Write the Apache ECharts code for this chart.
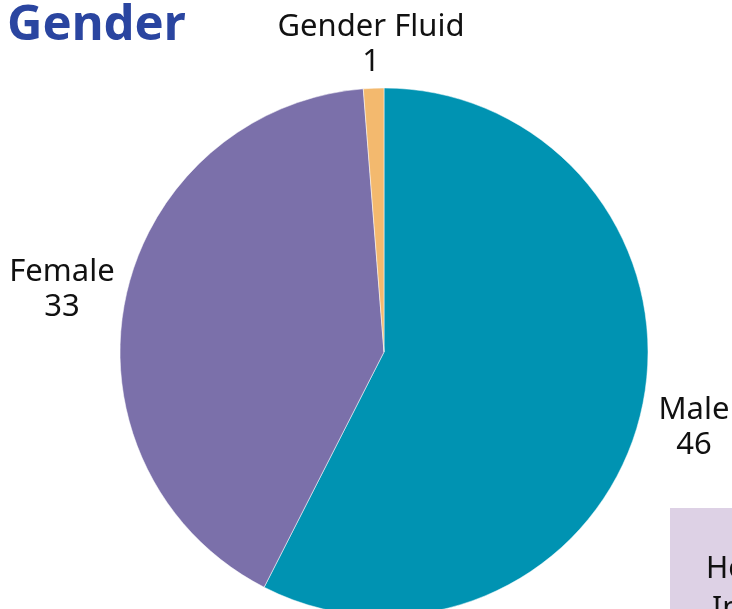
<!DOCTYPE html>
<html><head><meta charset="utf-8">
<script src="https://cdn.jsdelivr.net/npm/echarts@6/dist/echarts.min.js"></script>
<style>html,body{margin:0;padding:0;background:#fff}#c{width:732px;height:609px}</style>
</head><body><div id="c"></div>
<script>
const categories = ['Male', 'Female', 'Gender Fluid'];
const values = [46, 33, 1];
const colors = ['#0093B2', '#7B70AA', '#F3B96E'];
const labelPos = [[694, 428], [62, 290], [371, 45]];

const chart = echarts.init(document.getElementById('c'), null, {renderer: 'canvas'});
chart.setOption({
  animation: false,
  title: {
    text: 'Gender', left: 2, top: -3,
    textStyle: {fontFamily: 'Noto Sans', fontWeight: 'bold', fontSize: 49, color: '#2A45A0'}
  },
  graphic: [
    {type: 'rect', shape: {x: 670, y: 508, width: 70, height: 110}, style: {fill: '#DDD1E5'}},
    {type: 'text', x: 706, y: 554, style: {text: 'How', font: '30px "Noto Sans"', fill: '#111'}},
    {type: 'text', x: 712, y: 594, style: {text: 'In', font: '30px "Noto Sans"', fill: '#111'}}
  ],
  series: [{
    type: 'pie',
    center: [384, 352],
    radius: [0, 264],
    startAngle: 90,
    clockwise: true,
    data: categories.map((n, i) => ({name: n, value: values[i], itemStyle: {color: colors[i]}})),
    itemStyle: {borderColor: '#fff', borderWidth: 0.5},
    label: {
      show: true, position: 'outside', formatter: '{b}\n{c}',
      fontFamily: 'Noto Sans', fontSize: 31, lineHeight: 35, color: '#111', align: 'center',
      overflow: 'none', width: 300
    },
    labelLine: {show: false},
    labelLayout: function (p) {
      const pos = labelPos[p.dataIndex];
      return {x: pos[0], y: pos[1], align: 'center', verticalAlign: 'middle', hideOverlap: false, moveOverlap: null};
    }
  }]
});
</script></body></html>
